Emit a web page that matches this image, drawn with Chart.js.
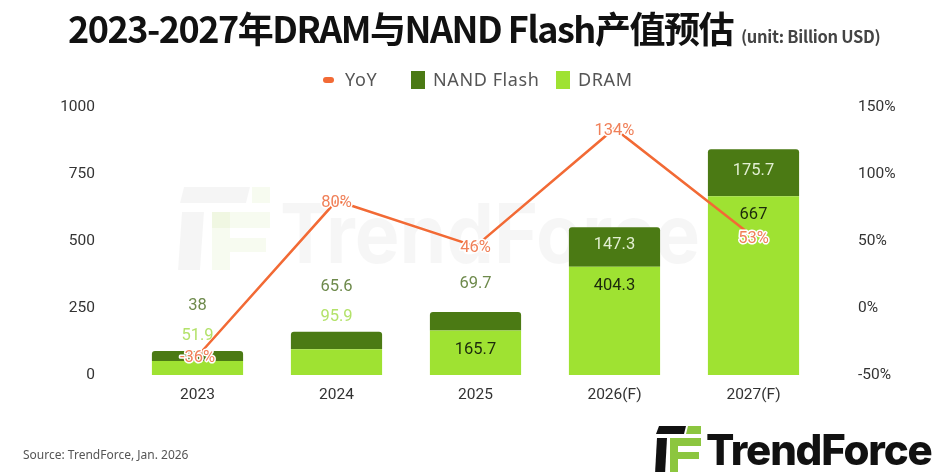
<!DOCTYPE html>
<html>
<head>
<meta charset="utf-8">
<script src="https://cdn.jsdelivr.net/npm/chart.js@4.4.1/dist/chart.umd.min.js"></script>
<style>
  html, body { margin: 0; padding: 0; background: #fff; }
  #wrap { position: relative; width: 942px; height: 472px; overflow: hidden; font-family: Roboto, "Noto Sans", sans-serif; }
  #chartBox { position: absolute; left: 0; top: 0; width: 942px; height: 472px; }
  .title { position: absolute; left: 68px; top: 1px; white-space: nowrap; color: #111;
    font-family: "Noto Sans CJK SC", "Noto Sans", sans-serif; font-weight: 700; font-size: 36px; letter-spacing: -1.5px; }
  .title small { font-size: 16.5px; color: #444; letter-spacing: -0.3px; font-weight: 700; margin-left: 8px; }
  .legend i { position: absolute; display: block; }
  .legend span { position: absolute; top: 67px; font-size: 18px; letter-spacing: 0.6px; color: #555; font-family: "Noto Sans", Roboto, sans-serif; white-space: nowrap; }
  .source { position: absolute; left: 23px; top: 446px; font-size: 12px; color: #555; font-family: "Liberation Sans Narrow", "Noto Sans", sans-serif; }
  .logo { position: absolute; left: 655px; top: 424px; display: flex; align-items: center; }
  .logo b { font-family: Inter, Roboto, sans-serif; font-size: 42px; font-weight: 800; color: #111; letter-spacing: -1.2px; margin-left: 5px; }
</style>
</head>
<body>
<div id="wrap">
  <div id="chartBox"><canvas id="valueChart"></canvas></div>
  <div class="title">2023-2027年DRAM与NAND Flash产值预估<small>(unit: Billion USD)</small></div>
  <div class="legend">
    <i style="left:323px;top:77px;width:11px;height:6px;border-radius:3px;background:#f26a35"></i>
    <span style="left:345px">YoY</span>
    <i style="left:411px;top:71px;width:14px;height:18px;background:#4b7a14"></i>
    <span style="left:433px">NAND Flash</span>
    <i style="left:556px;top:71px;width:14px;height:18px;background:#9fe232"></i>
    <span style="left:578px">DRAM</span>
  </div>
  <div class="source">Source: TrendForce, Jan. 2026</div>
  <div class="logo">
    <svg width="46" height="48" viewBox="0 0 46 48">
      <polygon points="4,0 31,0 29,8 1,8" fill="#111"/>
      <polygon points="33,0 46,0 46,8 31,8" fill="#8cc63f"/>
      <polygon points="2,12 12,12 10,48 0,48" fill="#111"/>
      <polygon points="15,12 46,12 46,20 23,20 23,26 44,26 44,33 23,33 23,48 15,48" fill="#8cc63f"/>
    </svg>
    <b>TrendForce</b>
  </div>
</div>

<script>
// chart data
const years = ['2023', '2024', '2025', '2026(F)', '2027(F)'];
const dramValues = [51.9, 95.9, 165.7, 404.3, 667];
const nandValues = [38, 65.6, 69.7, 147.3, 175.7];
const yoyValues = [-36, 80, 46, 134, 53];
const leftTicks = [0, 250, 500, 750, 1000];
const rightTicks = [-50, 0, 50, 100, 150];

// faint TrendForce watermark behind the bars
const watermarkPlugin = {
    id: 'watermark',
    beforeDatasetsDraw(chart) {
        const ctx = chart.ctx;
        ctx.save();
        ctx.fillStyle = 'rgba(0,0,0,0.04)';
        ctx.beginPath();
        ctx.moveTo(184, 187); ctx.lineTo(250, 187); ctx.lineTo(246, 203); ctx.lineTo(180, 203);
        ctx.closePath(); ctx.fill();
        ctx.beginPath();
        ctx.moveTo(182, 212); ctx.lineTo(204, 212); ctx.lineTo(200, 270); ctx.lineTo(178, 270);
        ctx.closePath(); ctx.fill();
        ctx.fillStyle = 'rgba(150,210,60,0.08)';
        ctx.fillRect(212, 212, 58, 16);
        ctx.fillRect(212, 212, 18, 58);
        ctx.fillRect(230, 238, 36, 14);
        ctx.fillRect(252, 187, 18, 16);
        ctx.fillStyle = 'rgba(0,0,0,0.035)';
        ctx.font = 'bold 82px Inter, Roboto, sans-serif';
        ctx.textBaseline = 'alphabetic';
        const w = ctx.measureText('TrendForce').width;
        ctx.translate(280, 263);
        ctx.scale(420 / w, 1);
        ctx.fillText('TrendForce', 0, 0);
        ctx.restore();
    }
};

// value labels for bars and YoY points
const valueLabelPlugin = {
    id: 'valueLabels',
    afterDatasetsDraw(chart) {
        const ctx = chart.ctx;
        const dramMeta = chart.getDatasetMeta(1);
        const nandMeta = chart.getDatasetMeta(2);
        const lineMeta = chart.getDatasetMeta(0);
        ctx.save();
        ctx.font = '16.5px Roboto, "Noto Sans", sans-serif';
        ctx.textAlign = 'center';
        ctx.textBaseline = 'middle';
        years.forEach(function(year, i) {
            const d = dramMeta.data[i];
            const n = nandMeta.data[i];
            const top = n.y;
            const dramInside = (d.base - d.y) > 35;
            const nandInside = (n.base - n.y) > 30;
            if (dramInside) {
                ctx.fillStyle = '#1c2a0c';
                ctx.fillText(String(dramValues[i]), d.x, d.y + 19);
            } else {
                ctx.fillStyle = '#b3e26a';
                ctx.fillText(String(dramValues[i]), d.x, top - 15);
            }
            if (nandInside) {
                ctx.fillStyle = '#e2efd2';
                ctx.fillText(String(nandValues[i]), n.x, (n.y + n.base) / 2 - 2);
            } else {
                ctx.fillStyle = '#6e8a4c';
                ctx.fillText(String(nandValues[i]), n.x, dramInside ? top - 28 : top - 45);
            }
        });
        lineMeta.data.forEach(function(pt, i) {
            const txt = yoyValues[i] + '%';
            ctx.lineWidth = 3;
            ctx.strokeStyle = '#ffffff';
            ctx.lineJoin = 'round';
            ctx.strokeText(txt, pt.x, pt.y + 2);
            ctx.fillStyle = '#f08059';
            ctx.fillText(txt, pt.x, pt.y + 2);
        });
        ctx.restore();
    }
};

document.addEventListener('DOMContentLoaded', function() {
    const ctx = document.getElementById('valueChart').getContext('2d');
    new Chart(ctx, {
        data: {
            labels: years,
            datasets: [
                {
                    type: 'line',
                    label: 'YoY',
                    data: yoyValues,
                    yAxisID: 'y1',
                    borderColor: '#f26a35',
                    borderWidth: 2.5,
                    pointRadius: 0,
                    tension: 0,
                    order: 0
                },
                {
                    type: 'bar',
                    label: 'DRAM',
                    data: dramValues,
                    yAxisID: 'y',
                    backgroundColor: '#9fe232',
                    categoryPercentage: 0.8,
                    barPercentage: 0.82,
                    order: 1
                },
                {
                    type: 'bar',
                    label: 'NAND Flash',
                    data: nandValues,
                    yAxisID: 'y',
                    backgroundColor: '#4b7a14',
                    borderRadius: { topLeft: 3, topRight: 3 },
                    categoryPercentage: 0.8,
                    barPercentage: 0.82,
                    order: 1
                }
            ]
        },
        options: {
            responsive: true,
            maintainAspectRatio: false,
            animation: false,
            layout: {
                padding: { top: 107, bottom: 57, left: 0, right: 0 }
            },
            plugins: {
                legend: { display: false },
                tooltip: { enabled: false }
            },
            scales: {
                x: {
                    stacked: true,
                    grid: { display: false },
                    border: { display: false },
                    ticks: {
                        color: '#333',
                        font: { size: 15.5, family: 'Roboto, "Noto Sans", sans-serif' },
                        padding: 3
                    },
                    afterFit: function(scale) { scale.height = 40; }
                },
                y: {
                    stacked: true,
                    position: 'left',
                    min: leftTicks[0],
                    max: leftTicks[leftTicks.length - 1],
                    grid: { display: false },
                    border: { display: false },
                    afterBuildTicks: function(scale) {
                        scale.ticks = leftTicks.map(v => ({ value: v }));
                    },
                    ticks: {
                        color: '#333',
                        font: { size: 15.5, family: 'Roboto, "Noto Sans", sans-serif' },
                        padding: 25,
                        callback: function(value) { return String(value); }
                    },
                    afterFit: function(scale) { scale.width = 128; }
                },
                y1: {
                    position: 'right',
                    min: rightTicks[0],
                    max: rightTicks[rightTicks.length - 1],
                    grid: { display: false },
                    border: { display: false },
                    afterBuildTicks: function(scale) {
                        scale.ticks = rightTicks.map(v => ({ value: v }));
                    },
                    ticks: {
                        color: '#333',
                        font: { size: 15.5, family: 'Roboto, "Noto Sans", sans-serif' },
                        padding: 27,
                        callback: function(value) { return value + '%'; }
                    },
                    afterFit: function(scale) { scale.width = 119; }
                }
            }
        },
        plugins: [watermarkPlugin, valueLabelPlugin]
    });
});
</script>
</body>
</html>
